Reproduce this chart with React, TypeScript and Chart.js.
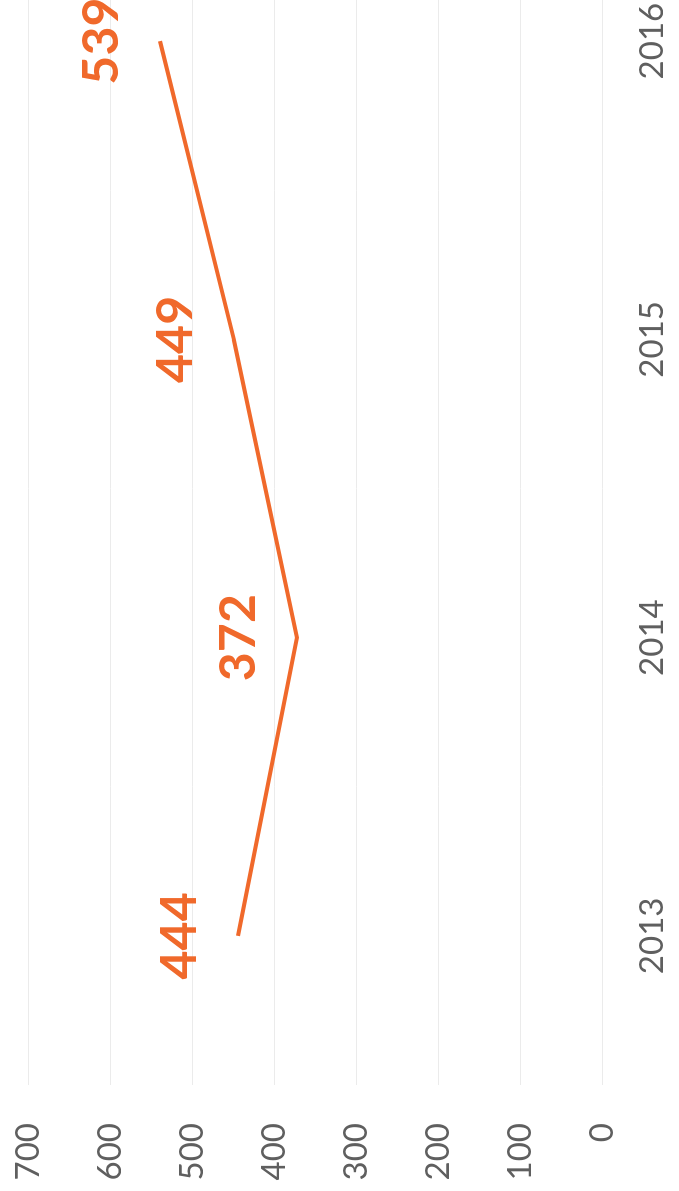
import React, { useEffect, useRef } from "react";
import { Chart, registerables } from "chart.js";

Chart.register(...registerables);

const years: string[] = ["2013", "2014", "2015", "2016"];
const values: number[] = [444, 372, 449, 539];
const valueTicks: number[] = [0, 100, 200, 300, 400, 500, 600, 700];

const ORANGE = "#F0692B";
const TEXT_GRAY = "#5f5f5f";
const GRID = "#ebebeb";
const FONT = "Lato, 'Open Sans', 'DejaVu Sans', sans-serif";

const pointLabels = {
  id: "pointLabels",
  afterDatasetsDraw(chart: any) {
    const ctx = chart.ctx;
    const meta = chart.getDatasetMeta(0);
    ctx.save();
    ctx.font = `bold 50px ${FONT}`;
    ctx.fillStyle = ORANGE;
    ctx.textAlign = "center";
    ctx.textBaseline = "alphabetic";
    meta.data.forEach((pt: any, i: number) => {
      ctx.fillText(String(values[i]), pt.x, pt.y - 42);
    });
    ctx.restore();
  },
};

export default function App() {
  const canvasRef = useRef<HTMLCanvasElement | null>(null);

  useEffect(() => {
    if (!canvasRef.current) return;
    const chart = new Chart(canvasRef.current, {
      type: "line",
      data: {
        labels: years,
        datasets: [
          {
            data: values,
            borderColor: ORANGE,
            borderWidth: 4,
            pointRadius: 0,
            pointHoverRadius: 0,
            tension: 0,
            fill: false,
          },
        ],
      },
      options: {
        responsive: false,
        animation: false,
        devicePixelRatio: 1,
        layout: { padding: { top: 28, right: 11, left: 0, bottom: 0 } },
        plugins: {
          legend: { display: false },
          tooltip: { enabled: false },
        },
        scales: {
          x: {
            type: "category",
            offset: true,
            grid: { display: false, drawTicks: false },
            border: { display: false },
            ticks: {
              font: { family: FONT, size: 33 },
              color: TEXT_GRAY,
              padding: 31,
              maxRotation: 0,
              autoSkip: false,
            },
            afterFit: (s: any) => {
              s.height = 77;
            },
          },
          y: {
            min: valueTicks[0],
            max: valueTicks[valueTicks.length - 1],
            ticks: {
              stepSize: valueTicks[1] - valueTicks[0],
              font: { family: FONT, size: 33 },
              color: TEXT_GRAY,
              padding: 0,
            },
            grid: {
              color: GRID,
              lineWidth: 1,
              drawTicks: true,
              tickLength: 38,
              tickColor: "rgba(0,0,0,0)",
            },
            border: { display: false },
            afterFit: (s: any) => {
              s.width = 106;
            },
          },
        },
      },
      plugins: [pointLabels],
    });
    return () => chart.destroy();
  }, []);

  return (
    <div
      style={{
        position: "fixed",
        top: 0,
        left: 0,
        width: 679,
        height: 1191,
        overflow: "hidden",
        background: "#ffffff",
      }}
    >
      <div
        style={{
          position: "absolute",
          top: 0,
          left: 0,
          width: 1191,
          height: 679,
          overflow: "hidden",
          transformOrigin: "0 0",
          transform: "translateY(1191px) rotate(-90deg)",
        }}
      >
        <canvas
          ref={canvasRef}
          width={1310}
          height={679}
          style={{ width: 1310, height: 679, display: "block" }}
        />
      </div>
    </div>
  );
}
